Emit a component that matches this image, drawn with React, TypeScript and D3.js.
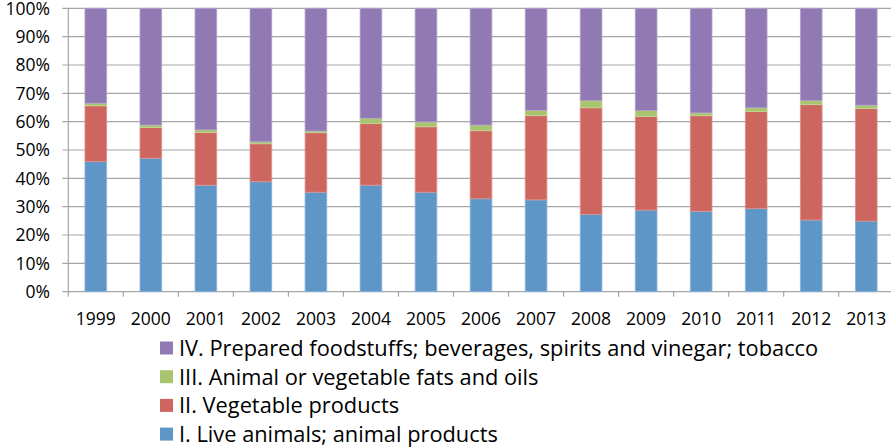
import React, { useEffect, useRef } from 'react';
import * as d3 from 'd3';

const years = ['1999', '2000', '2001', '2002', '2003', '2004', '2005', '2006', '2007', '2008', '2009', '2010', '2011', '2012', '2013'];

// shares in % per year
const liveAnimals = [45.9, 47.1, 37.6, 38.8, 35.1, 37.6, 35.1, 32.8, 32.4, 27.3, 28.8, 28.4, 29.3, 25.3, 24.9];
const vegetableProducts = [19.7, 10.8, 18.6, 13.4, 21.0, 21.7, 23.1, 24.0, 29.7, 37.6, 33.0, 33.7, 34.3, 40.7, 39.7];
const fatsOils = [0.9, 0.9, 0.9, 0.7, 0.6, 1.9, 1.7, 2.0, 1.9, 2.5, 2.1, 1.0, 1.3, 1.4, 1.2];
const preparedFood = [33.5, 41.2, 42.9, 47.1, 43.3, 38.8, 40.1, 41.2, 36.0, 32.6, 36.1, 36.9, 35.1, 32.6, 34.2];

const seriesNames = [
  'I. Live animals; animal products',
  'II. Vegetable products',
  'III. Animal or vegetable fats and oils',
  'IV. Prepared foodstuffs; beverages, spirits and vinegar; tobacco',
];
const seriesColors = ['#5F96C8', '#CD665F', '#A8C46C', '#917AB4'];
const seriesEdges = ['#8DB4DA', '#DE9490', '#C3D79A', '#B3A2CC'];

const yTicks = [0, 10, 20, 30, 40, 50, 60, 70, 80, 90, 100];

const FONT = "'Open Sans', sans-serif";

const App = () => {
  const svgRef = useRef<SVGSVGElement>(null);

  useEffect(() => {
    const width = 891;
    const height = 448;
    const left = 68.3;
    const step = 55.03;
    const top = 8.3;
    const bottom = 291.7;

    d3.select(svgRef.current).selectAll('*').remove();
    const svg = d3.select(svgRef.current).attr('width', width).attr('height', height);

    const table = years.map((y, i) => ({
      year: y,
      s0: liveAnimals[i],
      s1: vegetableProducts[i],
      s2: fatsOils[i],
      s3: preparedFood[i],
    }));
    const stack = d3.stack<any>().keys(['s0', 's1', 's2', 's3']).offset(d3.stackOffsetExpand);
    const layers = stack(table);

    const x = d3
      .scaleBand()
      .domain(years)
      .range([left, left + step * years.length])
      .paddingInner(0.605)
      .paddingOuter(0.3025);

    const y = d3.scaleLinear().domain([0, 1]).range([bottom, top]);

    // gridlines
    svg
      .append('g')
      .selectAll('line')
      .data(yTicks)
      .enter()
      .append('line')
      .attr('x1', left - 6)
      .attr('x2', width)
      .attr('y1', (d) => y(d / 100))
      .attr('y2', (d) => y(d / 100))
      .attr('stroke', '#a6a6a6')
      .attr('stroke-width', 1.2);

    // y axis line
    svg
      .append('line')
      .attr('x1', left)
      .attr('x2', left)
      .attr('y1', top)
      .attr('y2', bottom)
      .attr('stroke', '#a6a6a6')
      .attr('stroke-width', 1.2);

    // x ticks
    const xTicks = d3.range(years.length + 1).map((i) => left + step * i);
    svg
      .append('g')
      .selectAll('line')
      .data(xTicks)
      .enter()
      .append('line')
      .attr('x1', (d) => d)
      .attr('x2', (d) => d)
      .attr('y1', bottom)
      .attr('y2', bottom + 5)
      .attr('stroke', '#a6a6a6')
      .attr('stroke-width', 1.2);

    // bars
    svg
      .append('g')
      .selectAll('g')
      .data(layers)
      .enter()
      .append('g')
      .attr('fill', (_d, i) => seriesColors[i])
      .attr('stroke', (_d, i) => seriesEdges[i])
      .attr('stroke-width', 0.8)
      .selectAll('rect')
      .data((d) => d)
      .enter()
      .append('rect')
      .attr('x', (d: any) => x(d.data.year) as number)
      .attr('width', x.bandwidth())
      .attr('y', (d) => y(d[1]))
      .attr('height', (d) => y(d[0]) - y(d[1]));

    // y labels
    svg
      .append('g')
      .selectAll('text')
      .data(yTicks)
      .enter()
      .append('text')
      .attr('x', 50)
      .attr('y', (d) => y(d / 100))
      .attr('dy', '0.36em')
      .attr('text-anchor', 'end')
      .attr('font-family', FONT)
      .attr('font-size', 17.5)
      .attr('fill', '#000')
      .text((d) => `${d}%`);

    // x labels
    svg
      .append('g')
      .selectAll('text')
      .data(years)
      .enter()
      .append('text')
      .attr('x', (d) => (x(d) as number) + x.bandwidth() / 2)
      .attr('y', 324.5)
      .attr('text-anchor', 'middle')
      .attr('font-family', FONT)
      .attr('font-size', 17.5)
      .attr('fill', '#000')
      .text((d) => d);

    // legend (reverse order)
    const legendRows = [3, 2, 1, 0];
    const lg = svg
      .append('g')
      .selectAll('g')
      .data(legendRows)
      .enter()
      .append('g')
      .attr('transform', (_d, i) => `translate(160,${348 + i * 28.7})`);
    lg.append('rect')
      .attr('x', 0)
      .attr('y', -6.5)
      .attr('width', 13)
      .attr('height', 13)
      .attr('fill', (d) => seriesColors[d]);
    lg.append('text')
      .attr('x', 19)
      .attr('y', 0)
      .attr('dy', '0.36em')
      .attr('font-family', FONT)
      .attr('font-size', 21.8)
      .attr('fill', '#000')
      .text((d) => seriesNames[d]);
  }, []);

  return (
    <div style={{ position: 'absolute', left: 0, top: 0 }}>
      <svg ref={svgRef}></svg>
    </div>
  );
};

export default App;
